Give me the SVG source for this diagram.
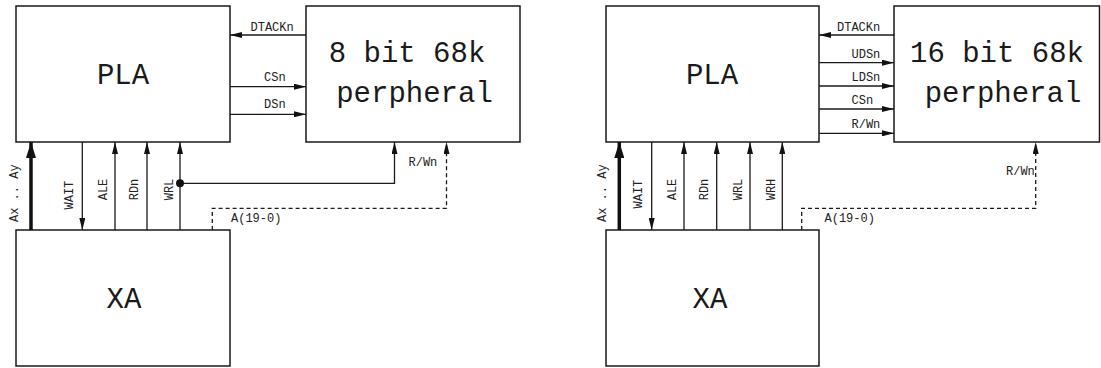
<svg xmlns="http://www.w3.org/2000/svg" width="1101" height="368" viewBox="0 0 1101 368">
<style>
.box{fill:#fff;stroke:#1a1a1a;stroke-width:1.5}
.big{font-family:"Liberation Mono","DejaVu Sans Mono",monospace;font-size:29px;fill:#1a1a1a;text-anchor:middle}
.lbl{font-family:"Liberation Mono","DejaVu Sans Mono",monospace;font-size:12px;fill:#222}
.w{fill:none;stroke:#1a1a1a;stroke-width:1.3}
.bus{fill:none;stroke:#111;stroke-width:3.5}
.dash{fill:none;stroke:#1a1a1a;stroke-width:1.3;stroke-dasharray:4 3}
</style>
<defs>
<marker id="arr" markerUnits="userSpaceOnUse" viewBox="0 0 12 6" markerWidth="12" markerHeight="6" refX="12" refY="3" orient="auto">
<path d="M0,0 L12,3 L0,6 Z" fill="#111"/>
</marker>
<marker id="arrBig" markerUnits="userSpaceOnUse" viewBox="0 0 16 10" markerWidth="16" markerHeight="10" refX="16" refY="5" orient="auto">
<path d="M0,0 L16,5 L0,10 Z" fill="#111"/>
</marker>
</defs>

<g id="pla1"><rect class="box" x="16" y="6" width="214" height="136"/><text class="big" x="123" y="84">PLA</text></g>
<g id="per8"><rect class="box" x="306" y="6" width="214" height="136"/><text class="big" x="407" y="61.7">8 bit 68k</text><text class="big" x="414.5" y="101.7">perpheral</text></g>
<g id="xa1"><rect class="box" x="16" y="230" width="214" height="136"/><text class="big" x="124" y="308.3">XA</text></g>

<g id="pla2"><rect class="box" x="606" y="6" width="213" height="136"/><text class="big" x="712" y="84">PLA</text></g>
<g id="per16"><rect class="box" x="894" y="6" width="205.5" height="136"/><text class="big" x="997" y="61.7">16 bit 68k</text><text class="big" x="1003" y="101.7">perpheral</text></g>
<g id="xa2"><rect class="box" x="606" y="230" width="213" height="136"/><text class="big" x="710" y="308.3">XA</text></g>

<g id="connectors">
<path class="w" d="M306,35 H230" marker-end="url(#arr)"/>
<path class="w" d="M230,86.7 H306" marker-end="url(#arr)"/>
<path class="w" d="M230,114.3 H306" marker-end="url(#arr)"/>
<path class="bus" d="M31,230 V142" marker-end="url(#arrBig)"/>
<path class="w" d="M82.3,142 V230" marker-end="url(#arr)"/>
<path class="w" d="M115,230 V142" marker-end="url(#arr)"/>
<path class="w" d="M147,230 V142" marker-end="url(#arr)"/>
<path class="w" d="M180,230 V142" marker-end="url(#arr)"/>
<path class="w" d="M180,183.3 H394.5 V142" marker-end="url(#arr)"/>
<circle cx="180" cy="183.3" r="4" fill="#111"/>
<path class="dash" d="M212.3,230 V208.3 H446.5 V142" marker-end="url(#arr)"/>

<path class="w" d="M894,35 H819" marker-end="url(#arr)"/>
<path class="w" d="M819,62.7 H894" marker-end="url(#arr)"/>
<path class="w" d="M819,86 H894" marker-end="url(#arr)"/>
<path class="w" d="M819,109 H894" marker-end="url(#arr)"/>
<path class="w" d="M819,133.3 H894" marker-end="url(#arr)"/>
<path class="bus" d="M619.3,230 V142" marker-end="url(#arrBig)"/>
<path class="w" d="M651.7,142 V230" marker-end="url(#arr)"/>
<path class="w" d="M684,230 V142" marker-end="url(#arr)"/>
<path class="w" d="M716.7,230 V142" marker-end="url(#arr)"/>
<path class="w" d="M750,230 V142" marker-end="url(#arr)"/>
<path class="w" d="M782.3,230 V142" marker-end="url(#arr)"/>
<path class="dash" d="M801.7,230 V208.3 H1035.7 V142" marker-end="url(#arr)"/>

<text class="lbl" x="250.5" y="30.7">DTACKn</text>
<text class="lbl" x="264" y="81">CSn</text>
<text class="lbl" x="264" y="108.3">DSn</text>
<text class="lbl" x="408.5" y="166">R/Wn</text>
<text class="lbl" x="231" y="221.7">A(19-0)</text>
<text class="lbl" transform="translate(17.5,222) rotate(-90)">Ax .. Ay</text>
<text class="lbl" transform="translate(72.7,209.5) rotate(-90)">WAIT</text>
<text class="lbl" transform="translate(106.7,200.3) rotate(-90)">ALE</text>
<text class="lbl" transform="translate(138.3,200.3) rotate(-90)">RDn</text>
<text class="lbl" transform="translate(172.7,200.3) rotate(-90)">WRL</text>

<text class="lbl" x="837" y="30.7">DTACKn</text>
<text class="lbl" x="851.5" y="58.3">UDSn</text>
<text class="lbl" x="851.5" y="81">LDSn</text>
<text class="lbl" x="851.5" y="104.3">CSn</text>
<text class="lbl" x="851.5" y="127.7">R/Wn</text>
<text class="lbl" x="1006" y="175">R/Wn</text>
<text class="lbl" x="824.5" y="221.7">A(19-0)</text>
<text class="lbl" transform="translate(606,222) rotate(-90)">Ax .. Ay</text>
<text class="lbl" transform="translate(642.3,208.5) rotate(-90)">WAIT</text>
<text class="lbl" transform="translate(676,200.3) rotate(-90)">ALE</text>
<text class="lbl" transform="translate(708.3,200.3) rotate(-90)">RDn</text>
<text class="lbl" transform="translate(741.7,200.3) rotate(-90)">WRL</text>
<text class="lbl" transform="translate(775,200.3) rotate(-90)">WRH</text>
</g>
</svg>
